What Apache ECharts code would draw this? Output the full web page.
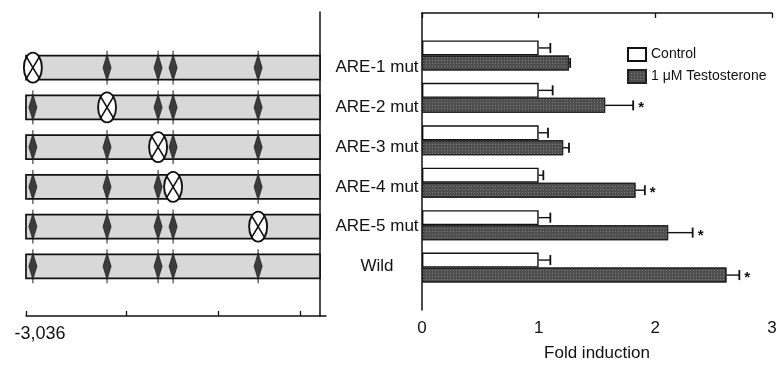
<!DOCTYPE html>
<html>
<head>
<meta charset="utf-8">
<title>ARE mut - Fold induction</title>
<script src="https://cdn.jsdelivr.net/npm/echarts@6/dist/echarts.min.js"></script>
<style>
html,body{margin:0;padding:0;background:#fff;}
#main{width:781px;height:367px;}
</style>
</head>
<body>
<div id="main"></div>
<script>
// 构建体名称 (从上到下)
var constructs = ['ARE-1 mut', 'ARE-2 mut', 'ARE-3 mut', 'ARE-4 mut', 'ARE-5 mut', 'Wild'];
// 启动子上ARE的位置 (bp)
var arePos = [-2965, -2199, -1672, -1517, -639];
// 每一行被突变的ARE序号, -1 = 野生型
var mutIndex = [0, 1, 2, 3, 4, -1];
var promoterStart = -3036;
var posTicks = [-3036, -2000, -1050, -200];
var posLabels = [-3036];

// 右侧柱状图数据
var seriesNames = ['Control', '1 μM Testosterone'];
var controlVal = [1.0, 1.0, 1.0, 1.0, 1.0, 1.0];
var controlErr = [0.10, 0.12, 0.08, 0.04, 0.10, 0.10];
var testoVal = [1.26, 1.57, 1.21, 1.83, 2.11, 2.61];
var testoErr = [0.01, 0.24, 0.05, 0.08, 0.21, 0.11];
var testoSig = [0, 1, 0, 1, 1, 1];

var FONT = "'Liberation Sans', Arial, Helvetica, sans-serif";

// 上下各留一个空位
function pad(arr) {
    return [null].concat(arr).concat([null]);
}
var yCats = [''].concat(constructs).concat(['']);

// 左侧启动子示意图
function renderConstruct(params, api) {
    var row = api.value(2);
    var y = api.value(1);
    var p0 = api.coord([promoterStart, y]);
    var p1 = api.coord([0, y]);
    var cy = p0[1];
    var children = [{
        type: 'rect',
        shape: { x: p0[0], y: cy - 12, width: p1[0] - p0[0], height: 24 },
        style: { fill: '#d8d8d8', stroke: '#111', lineWidth: 1.7 }
    }];
    for (var k = 0; k < arePos.length; k++) {
        var cx = api.coord([arePos[k], y])[0];
        if (k === mutIndex[row]) {
            var rx = 9, ry = 15;
            children.push({
                type: 'ellipse',
                shape: { cx: cx, cy: cy, rx: rx, ry: ry },
                style: { fill: '#fff', stroke: '#111', lineWidth: 1.9 }
            });
            children.push({
                type: 'line',
                shape: { x1: cx - rx * 0.7, y1: cy - ry * 0.7, x2: cx + rx * 0.7, y2: cy + ry * 0.7 },
                style: { stroke: '#111', lineWidth: 1.6 }
            });
            children.push({
                type: 'line',
                shape: { x1: cx + rx * 0.7, y1: cy - ry * 0.7, x2: cx - rx * 0.7, y2: cy + ry * 0.7 },
                style: { stroke: '#111', lineWidth: 1.6 }
            });
        } else {
            children.push({
                type: 'line',
                shape: { x1: cx, y1: cy - 17, x2: cx, y2: cy + 17 },
                style: { stroke: '#222', lineWidth: 1 }
            });
            children.push({
                type: 'polygon',
                shape: { points: [[cx, cy - 13], [cx + 4, cy], [cx, cy + 13], [cx - 4, cy]] },
                style: { fill: '#3c3c3c', stroke: '#222', lineWidth: 0.8 }
            });
        }
    }
    return { type: 'group', children: children };
}

// 误差线 + 显著性星号
function renderError(params, api) {
    var v = api.value(0);
    var idx = api.value(1);
    var e = api.value(2);
    var sig = api.value(3);
    var off = api.value(4);
    var p0 = api.coord([v, idx]);
    var p1 = api.coord([v + e, idx]);
    var y = p0[1] + off;
    var children = [{
        type: 'line',
        shape: { x1: p0[0], y1: y, x2: p1[0], y2: y },
        style: { stroke: '#111', lineWidth: 1.4 }
    }, {
        type: 'line',
        shape: { x1: p1[0], y1: y - 5, x2: p1[0], y2: y + 5 },
        style: { stroke: '#111', lineWidth: 1.8 }
    }];
    if (sig) {
        children.push({
            type: 'text',
            style: {
                text: '*', x: p1[0] + 5, y: y + 3,
                fill: '#111', font: 'bold 15px ' + FONT,
                verticalAlign: 'middle'
            }
        });
    }
    return { type: 'group', children: children };
}

var constructData = constructs.map(function (name, i) {
    return [promoterStart, 6 - i, i];
});
var errData = [];
for (var i = 0; i < constructs.length; i++) {
    errData.push([controlVal[i], i + 1, controlErr[i], 0, -7.5]);
    errData.push([testoVal[i], i + 1, testoErr[i], testoSig[i], 7.5]);
}

var myChart = echarts.init(document.getElementById('main'));
var option = {
    animation: false,
    backgroundColor: '#fff',
    textStyle: { fontFamily: FONT, color: '#111' },
    legend: {
        data: seriesNames,
        orient: 'vertical',
        left: 622,
        top: 42,
        itemWidth: 18,
        itemHeight: 13,
        itemGap: 7,
        icon: 'rect',
        textStyle: { fontSize: 14, color: '#111', fontFamily: FONT }
    },
    grid: [
        { left: 26, right: 455, top: 12, bottom: 51 },
        { left: 422, right: 9, top: 13, bottom: 50 }
    ],
    xAxis: [{
        gridIndex: 0,
        type: 'value',
        min: promoterStart,
        max: 62,
        axisLine: { onZero: false, lineStyle: { color: '#111', width: 1.5 } },
        axisTick: { inside: true, length: 5, customValues: posTicks, lineStyle: { color: '#111', width: 1.3 } },
        axisLabel: {
            customValues: posLabels,
            formatter: function () { return '-3,036'; },
            fontSize: 18, color: '#111', margin: 9,
            padding: [0, 0, 0, 28]
        },
        splitLine: { show: false }
    }, {
        gridIndex: 1,
        type: 'value',
        position: 'bottom',
        min: 0, max: 3, interval: 1,
        name: 'Fold induction',
        nameLocation: 'middle',
        nameGap: 35,
        nameTextStyle: { fontSize: 17, color: '#111' },
        axisLine: { onZero: false, lineStyle: { color: '#111', width: 1.5 } },
        axisTick: { inside: true, length: 5, lineStyle: { color: '#111', width: 1.3 } },
        axisLabel: { fontSize: 17, color: '#111', margin: 10 },
        splitLine: { show: false }
    }, {
        gridIndex: 1,
        type: 'value',
        position: 'top',
        min: 0, max: 3, interval: 1,
        axisLine: { show: true, onZero: false, lineStyle: { color: '#111', width: 1.5 } },
        axisTick: { show: true, inside: true, length: 5, lineStyle: { color: '#111', width: 1.3 } },
        axisLabel: { show: false },
        splitLine: { show: false }
    }],
    yAxis: [{
        gridIndex: 0,
        type: 'value',
        min: -0.25, max: 7.4,
        position: 'right',
        axisLine: { show: true, onZero: true, lineStyle: { color: '#111', width: 1.5 } },
        axisTick: { show: false },
        axisLabel: {
            customValues: [1, 2, 3, 4, 5, 6],
            formatter: function (v) { return constructs[6 - v]; },
            fontSize: 17, color: '#111', align: 'center', margin: 51
        },
        splitLine: { show: false }
    }, {
        gridIndex: 1,
        type: 'category',
        data: yCats,
        inverse: true,
        boundaryGap: false,
        axisLine: { lineStyle: { color: '#111', width: 1.5 } },
        axisTick: { show: false },
        axisLabel: { show: false }
    }],
    series: [{
        name: 'constructs',
        type: 'custom',
        xAxisIndex: 0,
        yAxisIndex: 0,
        renderItem: renderConstruct,
        data: constructData,
        z: 3
    }, {
        name: seriesNames[0],
        type: 'bar',
        xAxisIndex: 1,
        yAxisIndex: 1,
        barWidth: 15,
        barGap: '0%',
        itemStyle: { color: '#fff', borderColor: '#111', borderWidth: 1.4 },
        data: pad(controlVal)
    }, {
        name: seriesNames[1],
        type: 'bar',
        xAxisIndex: 1,
        yAxisIndex: 1,
        barWidth: 15,
        barGap: '0%',
        itemStyle: {
            color: '#4f4f4f', borderColor: '#222', borderWidth: 1.2,
            decal: {
                symbol: 'rect', symbolSize: 1,
                dashArrayX: [1, 2], dashArrayY: [1, 2],
                color: 'rgba(160,160,160,0.6)'
            }
        },
        data: pad(testoVal)
    }, {
        name: 'error',
        type: 'custom',
        xAxisIndex: 1,
        yAxisIndex: 1,
        renderItem: renderError,
        data: errData,
        z: 4
    }]
};
myChart.setOption(option);
</script>
</body>
</html>
